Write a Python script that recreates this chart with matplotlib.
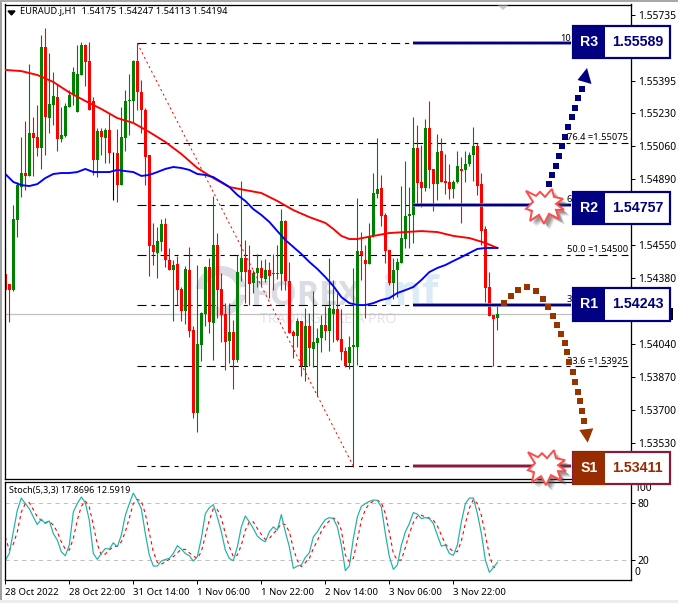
import matplotlib
matplotlib.use("Agg")
import matplotlib.pyplot as plt
from matplotlib.patches import Rectangle, Polygon, Wedge
from matplotlib.transforms import Affine2D

plt.rcParams['font.family'] = ['Noto Sans', 'DejaVu Sans']
plt.rcParams['lines.scale_dashes'] = False

# ---------------- data ----------------
opens = [1.54401,1.54349,1.54318,1.54679,1.54849,1.54921,1.54906,1.55127,1.55106,1.55050,1.55570,1.55204,1.55271,1.55312,1.55096,1.55112,
1.55261,1.55323,1.55235,1.55426,1.55580,1.55498,1.55292,1.54988,1.55137,1.55101,1.55143,1.55024,1.55024,1.54859,1.55101,1.55292,
1.55292,1.55498,1.55338,1.55246,1.55014,1.54550,1.54509,1.54566,1.54658,1.54473,1.54422,1.54452,1.54324,1.54210,1.54422,1.54112,
1.53685,1.54035,1.54195,1.54437,1.54149,1.54550,1.54324,1.54195,1.54056,1.54102,1.53958,1.54411,1.54483,1.54422,1.54355,1.54406,
1.54432,1.54375,1.54422,1.54406,1.54401,1.54401,1.54674,1.54365,1.54102,1.54081,1.54159,1.53927,1.54133,1.54015,1.54046,1.54071,
1.54138,1.54107,1.54195,1.54221,1.54066,1.54004,1.53943,1.54025,1.54025,1.54519,1.54473,1.54452,1.54597,1.54813,1.54844,1.54705,
1.54524,1.54355,1.54422,1.54458,1.54581,1.54700,1.54705,1.55050,1.54875,1.54844,1.55153,1.54942,1.54864,1.55034,1.54880,1.54875,
1.54839,1.54875,1.54942,1.54936,1.54967,1.55014,1.55060,1.54864,1.54633,1.54334,1.54190,1.54175]
highs = [1.54540,1.54349,1.54756,1.54875,1.55106,1.55189,1.55482,1.55209,1.55271,1.55632,1.55668,1.55539,1.55441,1.55379,1.55261,1.55282,
1.55348,1.55467,1.55580,1.55596,1.55585,1.55596,1.55312,1.55153,1.55153,1.55153,1.55230,1.55029,1.55148,1.55261,1.55348,1.55431,
1.55503,1.55591,1.55400,1.55256,1.55014,1.54664,1.54643,1.54684,1.54689,1.54535,1.54473,1.54494,1.54334,1.54442,1.54540,1.54133,
1.54447,1.54205,1.54442,1.54483,1.54803,1.54612,1.54406,1.54251,1.54251,1.54164,1.54499,1.54880,1.54576,1.54550,1.54422,1.54504,
1.54473,1.54478,1.54463,1.54504,1.54550,1.54735,1.54679,1.54463,1.54112,1.54174,1.54159,1.54226,1.54200,1.54313,1.54123,1.54190,
1.54236,1.54483,1.54370,1.54303,1.54221,1.54025,1.54081,1.54432,1.54792,1.54617,1.54550,1.54664,1.54921,1.55101,1.54911,1.54715,
1.54524,1.54483,1.54483,1.54854,1.54983,1.54849,1.55209,1.55168,1.55065,1.55199,1.55292,1.54942,1.55122,1.55101,1.55019,1.54967,
1.54885,1.55034,1.55003,1.55034,1.55029,1.55158,1.55076,1.54921,1.54648,1.54411,1.54190,1.54247]
lows = [1.54318,1.54154,1.54313,1.54591,1.54797,1.54833,1.54906,1.54906,1.55009,1.54942,1.55014,1.55127,1.55168,1.55034,1.55081,1.55106,
1.55261,1.55271,1.55235,1.55426,1.55369,1.55246,1.54911,1.54900,1.55014,1.54973,1.54973,1.54782,1.54772,1.54859,1.55034,1.55117,
1.55184,1.55246,1.55127,1.54859,1.54391,1.54447,1.54380,1.54519,1.54437,1.54422,1.54159,1.54241,1.54159,1.54143,1.54076,1.53659,
1.53587,1.53953,1.54133,1.54097,1.53958,1.54174,1.54051,1.53907,1.53943,1.53809,1.53948,1.54365,1.54251,1.54241,1.54303,1.54334,
1.54339,1.54360,1.54277,1.54318,1.54375,1.54318,1.54318,1.54097,1.53968,1.54025,1.53876,1.53850,1.53927,1.53922,1.53773,1.53999,
1.54061,1.54004,1.54051,1.54056,1.53958,1.53922,1.53912,1.53407,1.53932,1.54370,1.54174,1.54452,1.54591,1.54792,1.54648,1.54458,
1.54344,1.54272,1.54282,1.54458,1.54535,1.54535,1.54561,1.54756,1.54746,1.54828,1.54844,1.54725,1.54782,1.54875,1.54813,1.54787,
1.54792,1.54870,1.54664,1.54875,1.54957,1.54880,1.54808,1.54550,1.54257,1.54185,1.53927,1.54113]
closes = [1.54318,1.54318,1.54684,1.54859,1.54921,1.54906,1.55127,1.55101,1.55050,1.55570,1.55209,1.55276,1.55318,1.55096,1.55117,1.55266,
1.55323,1.55441,1.55431,1.55580,1.55493,1.55246,1.54988,1.55137,1.55106,1.55143,1.55024,1.55024,1.54859,1.55106,1.55292,1.55297,
1.55498,1.55338,1.55246,1.55003,1.54545,1.54514,1.54571,1.54658,1.54473,1.54422,1.54447,1.54318,1.54210,1.54427,1.54107,1.53685,
1.54040,1.54200,1.54437,1.54154,1.54550,1.54318,1.54190,1.54051,1.54102,1.53958,1.54411,1.54483,1.54411,1.54349,1.54406,1.54432,
1.54380,1.54422,1.54391,1.54401,1.54406,1.54674,1.54365,1.54097,1.54081,1.54159,1.53927,1.54133,1.54020,1.54051,1.54071,1.54138,
1.54107,1.54226,1.54221,1.54061,1.53999,1.53927,1.54025,1.54035,1.54519,1.54499,1.54452,1.54597,1.54818,1.54839,1.54700,1.54519,
1.54355,1.54422,1.54463,1.54586,1.54700,1.54710,1.55050,1.54870,1.54844,1.55153,1.54936,1.54864,1.55029,1.54875,1.54870,1.54839,
1.54875,1.54957,1.54931,1.54967,1.55014,1.55060,1.54854,1.54622,1.54329,1.54185,1.54169,1.54194]

red_ma_bars = [0,4,8,12,16,20,24,28,32,36,40,44,48,52,56,60,64,68,72,76,80,82,84,86,88,92,96,100,104,108,112,116,120,123]
red_ma = [1.55452,1.55446,1.55426,1.55390,1.55336,1.55292,1.55251,1.55204,1.55179,1.55132,1.55081,1.55019,1.54947,1.54895,1.54849,1.54833,
1.54818,1.54777,1.54730,1.54694,1.54664,1.54633,1.54597,1.54581,1.54581,1.54597,1.54612,1.54617,1.54622,1.54617,1.54597,1.54586,1.54561,1.54535]

blue_ma_bars = [0,2,4,6,8,10,12,14,16,18,20,22,24,26,28,30,32,34,36,38,40,42,44,46,48,50,52,54,56,58,60,62,64,66,68,70,72,74,76,78,80,82,84,86,88,90,92,94,96,98,100,102,104,106,108,110,112,114,116,118,120,123]
blue_ma = [1.54916,1.54875,1.54859,1.54854,1.54864,1.54895,1.54916,1.54921,1.54921,1.54926,1.54942,1.54926,1.54926,1.54926,1.54937,1.54931,
1.54926,1.54906,1.54911,1.54926,1.54942,1.54952,1.54947,1.54937,1.54916,1.54911,1.54900,1.54875,1.54849,1.54808,1.54777,1.54735,
1.54705,1.54669,1.54622,1.54576,1.54540,1.54504,1.54463,1.54427,1.54385,1.54339,1.54282,1.54251,1.54241,1.54241,1.54251,1.54267,
1.54277,1.54303,1.54318,1.54334,1.54370,1.54411,1.54432,1.54447,1.54468,1.54488,1.54509,1.54530,1.54535,1.54535]

stoch_k = [20.0,27.2,49.7,72.1,84.8,79.0,73.8,65.2,57.2,62.8,58.3,61.0,47.9,41.0,29.0,24.8,35.9,70.3,79.0,85.9,80.0,61.7,27.2,21.0,27.2,32.4,31.7,38.3,34.1,46.2,66.9,79.0,
90.0,82.4,73.8,47.9,25.5,14.1,14.1,19.3,21.0,22.1,27.2,35.2,31.7,27.2,24.8,19.3,23.8,42.8,68.6,74.8,77.9,65.2,49.7,30.7,22.1,19.7,34.1,54.8,66.2,60.0,53.1,45.2,
41.7,39.3,49.7,54.8,51.4,67.6,49.7,34.1,11.7,14.1,15.2,23.1,27.9,44.5,49.7,56.6,62.4,64.5,63.4,54.8,35.9,9.3,14.5,42.8,65.2,76.2,79.0,81.4,82.8,82.4,75.5,47.9,
23.8,10.7,15.2,35.9,49.7,58.3,69.7,68.0,63.4,64.5,63.4,58.3,46.2,34.8,35.9,27.2,25.2,35.9,60.0,79.0,84.8,84.8,68.6,47.9,20.3,7.6,12.4,17.87]
stoch_d = [44.5,30.7,36.9,49.7,70.3,79.0,80.0,72.8,65.2,61.7,59.3,60.7,56.6,49.7,39.3,31.7,30.7,42.8,61.7,76.2,81.7,75.5,56.6,36.9,25.5,26.6,30.7,34.1,34.8,39.3,49.7,64.1,
79.0,83.4,81.7,68.6,48.6,29.0,17.9,15.9,18.6,21.0,23.8,27.9,31.4,31.4,27.9,24.5,22.1,29.0,45.2,61.7,73.8,72.8,64.1,47.9,34.1,23.8,25.5,35.9,51.4,60.0,60.0,53.1,
46.9,41.7,42.8,47.9,52.1,58.3,57.2,49.7,32.4,19.7,13.4,17.6,22.1,32.4,40.3,50.3,56.6,61.0,64.1,61.0,51.4,25.5,18.6,22.1,41.0,61.7,72.8,79.0,81.4,82.4,80.0,68.6,
49.0,27.2,20.3,20.3,33.4,47.9,59.3,65.9,66.9,65.2,64.1,61.7,55.9,46.2,36.9,32.4,29.3,29.0,40.3,58.3,74.5,83.4,79.0,66.9,46.2,25.5,12.8,12.59]

fib_prices = [1.55589, 1.55075, 1.54757, 1.54500, 1.54243, 1.53925, 1.53411]
fib_labels = ["10", "76.4 =1.55075", "6", "50.0 =1.54500", "3", "23.6 =1.53925", ""]
fib_label_right = [155.7-14.2, 155.7, 155.7-14.2, 155.7, 155.7-14.2, 155.7, 155.7]
price_ticks = [1.55735,1.55565,1.55395,1.55230,1.55060,1.54890,1.54720,1.54550,1.54380,1.54210,1.54040,1.53870,1.53700,1.53530]
price_tick_labels = ["1.55735","","1.55395","1.55230","1.55060","1.54890","","1.54550","1.54380","","1.54040","1.53870","1.53700","1.53530"]
time_ticks = [0,16,32,48,64,80,96,112]
time_labels = ["28 Oct 2022","28 Oct 22:00","31 Oct 14:00","1 Nov 06:00","1 Nov 22:00","2 Nov 14:00","3 Nov 06:00","3 Nov 22:00"]
box_names = ["R3","R2","R1","S1"]
box_values = [1.55589, 1.54757, 1.54243, 1.53411]
current_price = 1.54194

# ---------------- layout ----------------
W, H = 678, 603
fig = plt.figure(figsize=(W/100, H/100), dpi=100, facecolor="white")
def rect(l, t, r, b):
    return [l/W, 1-b/H, (r-l)/W, (b-t)/H]
PX = 0.72  # one pixel in points
pixel_tr = Affine2D().scale(1, -1).translate(0, H)

ax = fig.add_axes(rect(4.5, 4.5, 631, 479))
ax2 = fig.add_axes(rect(4.5, 481.5, 631, 580))
over = fig.add_axes([0, 0, 1, 1], zorder=10)
over.set_xlim(0, W); over.set_ylim(H, 0); over.axis("off"); over.patch.set_alpha(0)

xlim = (-0.2, 156.4)
ax.set_xlim(*xlim); ax.set_ylim(1.53345, 1.55789)
ax2.set_xlim(*xlim); ax2.set_ylim(-0.4, 102)

for a in (ax, ax2):
    for s in a.spines.values():
        s.set_linewidth(PX*1.3); s.set_color("black")
    a.yaxis.tick_right()
    a.tick_params(axis="y", length=3, width=PX, pad=2, labelsize=7.4)
ax.set_xticks([])
ax.set_yticks(price_ticks)
ax.set_yticklabels(price_tick_labels)

# ---------------- watermark ----------------
ax.add_patch(Wedge((221, 291), 25, 185, 350, width=9, facecolor="#dcdce4", edgecolor="none", transform=pixel_tr, zorder=0.5))
ax.add_patch(Wedge((221, 291), 25, 10, 120, width=9, facecolor="#dcdce4", edgecolor="none", transform=pixel_tr, zorder=0.5))
ax.text(251, 305, "FOREX", fontsize=24.5, fontweight="bold", family="Open Sans", color="#dcdce4", va="baseline", ha="left", transform=pixel_tr, zorder=0.6)
ax.text(382, 305, "inf", fontsize=30, fontweight="bold", family="Open Sans", color="#dcecf6", va="baseline", ha="left", transform=pixel_tr, zorder=0.6)
ax.text(260, 323, "TRADING LIKE A PRO", fontsize=10.2, family="Open Sans", color="#e2e2e8", va="baseline", ha="left", transform=pixel_tr, zorder=0.6)

# ---------------- price panel ----------------
ax.axhline(current_price, color="#c0c0c0", lw=1.2*PX, zorder=1)
for p, lab, xr in zip(fib_prices, fib_labels, fib_label_right):
    ax.plot([33, 155.7], [p, p], color="black", lw=PX*1.1, dashes=(6.5, 3.6, 2.9, 3.6), zorder=1.5)
    if lab:
        ax.text(xr, p + 0.00004, lab, fontsize=6.7, ha="right", va="bottom", zorder=1.6)

n = len(opens)
xs = list(range(n))
cols = ["black" if c == o else ("#008000" if c > o else "#ff0000") for o, c in zip(opens, closes)]
ax.vlines(xs, lows, highs, colors=cols, lw=PX*1.1, zorder=2)
bottoms = [min(o, c) for o, c in zip(opens, closes)]
heights = [abs(c-o) for o, c in zip(opens, closes)]
ax.bar(xs, heights, bottom=bottoms, width=0.75, color=cols, linewidth=0, zorder=2.1)

ax.plot([33, 87], [fib_prices[0], fib_prices[-1]], color="#ff0000", lw=PX, dashes=(1.5, 2.2), zorder=2.3)
ax.plot(red_ma_bars, red_ma, color="#ff0000", lw=1.9*PX, zorder=3)
ax.plot(blue_ma_bars, blue_ma, color="#0000ff", lw=1.9*PX, zorder=3.1)

# support / resistance level lines
for name, v in zip(box_names, box_values):
    main = "#000080" if name != "S1" else "#8b1a3a"
    halo = "#8a8ac4" if name != "S1" else "#c08a9a"
    ax.plot([102, 141.5], [v, v], color=halo, lw=3.6*PX, zorder=3.5, solid_capstyle="butt")
    ax.plot([102, 141.5], [v, v], color=main, lw=2.2*PX, zorder=3.6, solid_capstyle="butt")

ax.text(20, 12, "EURAUD.j,H1  1.54175 1.54247 1.54113 1.54194", transform=pixel_tr, fontsize=6.7, ha="left", va="center", zorder=5)
ax.add_patch(Polygon([(8, 11), (15, 11), (11.5, 15)], transform=pixel_tr, color="black", zorder=5))

# ---------------- stochastic panel ----------------
ax2.set_yticks([80, 20]); ax2.set_yticklabels(["80", "20"])
ax2.set_xticks(time_ticks); ax2.set_xticklabels(time_labels, ha="left", fontsize=6.9)
ax2.tick_params(axis="x", length=3, width=PX, pad=3)
ax2.axhline(80, color="#c0c0c0", lw=PX, dashes=(3, 3), zorder=1)
ax2.axhline(20, color="#c0c0c0", lw=PX, dashes=(3, 3), zorder=1)
ax2.plot(range(len(stoch_d)), stoch_d, color="#ff0000", lw=PX*1.1, dashes=(2.4, 2.4), zorder=2)
ax2.plot(range(len(stoch_k)), stoch_k, color="#20b2aa", lw=PX*1.2, zorder=2.2)
tr = ax2.get_yaxis_transform()
ax2.text(1.005, 95, "100", transform=tr, fontsize=7.4, va="center", clip_on=False)
ax2.text(1.005, 7, "0", transform=tr, fontsize=7.4, va="center", clip_on=False)
ax2.text(9, 491, "Stoch(5,3,3) 17.8696 12.5919", transform=pixel_tr, fontsize=6.5, ha="left", va="center", zorder=5)

# ---------------- overlay: boxes, arrows, bursts (pixel layout) ----------------
fig.canvas.draw()
def py(p):
    return H - ax.transData.transform((0, p))[1]

star = [(-19,-14),(-9,-9),(-5,-13),(0,-8),(7,-16),(9,-8),(18,-6),(11,-1),(19,5),(11,5),(14,14),(4,9),(-1,19),(-6,10),(-15,16),(-13,6),(-19,4),(-12,-3)]
def burst(cx, cy):
    for d, al in ((6, .12), (5, .18), (4, .22), (3, .28)):
        over.add_patch(Polygon([(cx+x+d, cy+y+d) for x, y in star], facecolor="#505050", edgecolor="none", alpha=al, zorder=3))
    over.add_patch(Polygon([(cx+x, cy+y) for x, y in star], facecolor="white", edgecolor="#ff4d4d", lw=2.0*PX, zorder=4))

def box(name, value, t, b, dark, border, txt):
    over.add_patch(Rectangle((573, t), 97, b-t, facecolor="white", edgecolor=border, lw=2.2*PX, zorder=5))
    over.add_patch(Rectangle((572.5, t-.5), 32.5, b-t+1, facecolor=dark, edgecolor="none", zorder=6))
    c = (t+b)/2
    over.text(588.8, c, name, color="white", fontweight="bold", fontsize=10.2, family="Liberation Sans", ha="center", va="center", zorder=7)
    over.text(637.5, c, f"{value:.5f}", color=txt, fontweight="bold", fontsize=10.2, family="Liberation Sans", ha="center", va="center", zorder=7)

# arrows
blue_dots_x = [549.3,551.7,555.7,559,561.7,565,568.3,571.7,575,578.3,581.7]
blue_dots_y = [184,175,165.7,155.7,145.7,136.7,127.3,117.3,108,98.3,89.3]
over.plot(blue_dots_x, blue_dots_y, ls="none", marker="s", ms=3.9, color="#000080", mew=0, zorder=2)
over.add_patch(Polygon([(587, 68), (577.5, 80), (591.5, 84)], facecolor="#000080", edgecolor="none", zorder=2))
br = [(72,188),(92,168),(113,150),(140,140),(168,152),(188,176),(205,200),(218,228),(232,255),(242,282),(256,310),(262,337),(268,367),(278,395),(285,425),(293,455),(300,483),(307,512),(313,543)]
over.plot([480+a/3 for a, _ in br], [240+b/3 for _, b in br], ls="none", marker="s", ms=3.9, color="#993300", mew=0, zorder=2)
over.add_patch(Polygon([(579.3, 430), (593.3, 428.3), (587.7, 442.7)], facecolor="#993300", edgecolor="none", zorder=2))

burst(545, py(box_values[1]))
burst(547, py(box_values[3]))
box("R3", box_values[0], 26, 58, "#000080", "#000080", "#000080")
box("R2", box_values[1], 192, 224, "#000080", "#000080", "#000080")
box("R1", box_values[2], 288, 321, "#000080", "#000080", "#000080")
box("S1", box_values[3], 452, 484, "#992b00", "#8b1a3a", "#992b00")

# frame decoration of the terminal screenshot
over.add_patch(Rectangle((0, 0), 2, H, facecolor="#a0a0a0", edgecolor="none", zorder=1))
over.add_patch(Rectangle((0, 0), W, 1.6, facecolor="#a8a8a8", edgecolor="none", zorder=1))
over.add_patch(Rectangle((0, 600), W, 3, facecolor="#ececec", edgecolor="none", zorder=1))
over.add_patch(Polygon([(498, 5.5), (508, 5.5), (503, 10)], facecolor="#c8c8c8", edgecolor="none", zorder=1))
over.add_patch(Rectangle((670, 308), 3, 12, facecolor="black", edgecolor="none", zorder=1))

fig.savefig("out.png", dpi=100, facecolor="white")
